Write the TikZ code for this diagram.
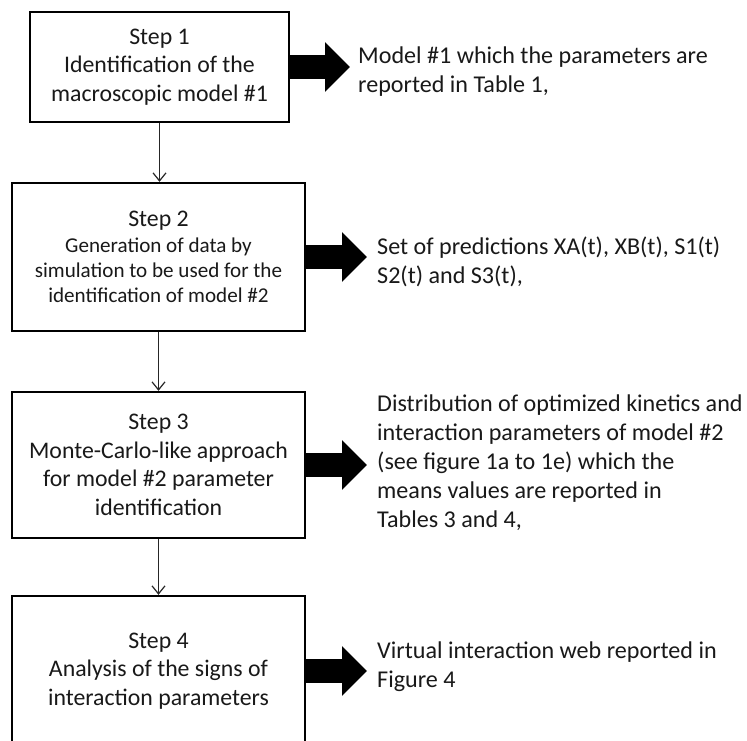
\documentclass[tikz,border=0pt]{standalone}
\usepackage{fontspec}
\setmainfont{Carlito}
\usetikzlibrary{arrows.meta}
\begin{document}
\begin{tikzpicture}[x=1pt,y=-1pt,
  boxfont/.style={font=\fontsize{23.8}{28.7}\selectfont},
  stepbox/.style={draw=black,line width=2.4pt,align=center,inner sep=0pt,boxfont,text=black!90},
  flow/.style={draw=black!85,line width=1.2pt,-{Straight Barb[length=8pt,width=13pt]}},
  bigarrow/.style={draw=black,line width=24pt,-{Triangle[length=25pt,width=48pt]}},
  result/.style={align=left,inner sep=0pt,anchor=base west,font=\fontsize{24.1}{28.8}\selectfont,text=black!90}]
\useasboundingbox (0,0) rectangle (747,740);
\fill[white] (0,0) rectangle (747,740);
\clip (0,0) rectangle (747,740);

\node[stepbox,minimum width=259pt,minimum height=110pt] (s1) at (159.5,67)
  {Step 1\\Identification of the\\macroscopic model \#1};
\node[stepbox,minimum width=293pt,minimum height=148pt,font=\fontsize{21.1}{25.3}\selectfont] (s2) at (158.5,257)
  {{\fontsize{23.8}{28.7}\selectfont Step 2}\\Generation of data by\\simulation to be used for the\\identification of model \#2};
\node[stepbox,minimum width=293pt,minimum height=146pt] (s3) at (158.5,465)
  {Step 3\\Monte-Carlo-like approach\\for model \#2 parameter\\identification};
\node[stepbox,minimum width=293pt,minimum height=150pt] (s4) at (158.5,671)
  {Step 4\\Analysis of the signs of\\interaction parameters};

\node[result] (r1) at (358,92) {Model \#1 which the parameters are\\reported in Table 1,};
\node[result] (r2) at (377,283) {Set of predictions XA(t), XB(t), S1(t)\\S2(t) and S3(t),};
\node[result] (r3) at (377,527) {Distribution of optimized kinetics and\\interaction parameters of model \#2\\(see figure 1a to 1e) which the\\means values are reported in\\Tables 3 and 4,};
\node[result] (r4) at (377,687) {Virtual interaction web reported in\\Figure 4};

\draw[flow] (s1.south) -- (s1.south |- s2.north);
\draw[flow] (s2.south) -- (s2.south |- s3.north);
\draw[flow] (s3.south) -- (s3.south |- s4.north);

\draw[bigarrow,shorten >=8pt] (s1.east) -- (s1.east -| r1.west);
\draw[bigarrow,shorten >=10pt] (s2.east) -- (s2.east -| r2.west);
\draw[bigarrow,shorten >=10pt] (s3.east) -- (s3.east -| r3.west);
\draw[bigarrow,shorten >=10pt] (s4.east) -- (s4.east -| r4.west);
\end{tikzpicture}
\end{document}
